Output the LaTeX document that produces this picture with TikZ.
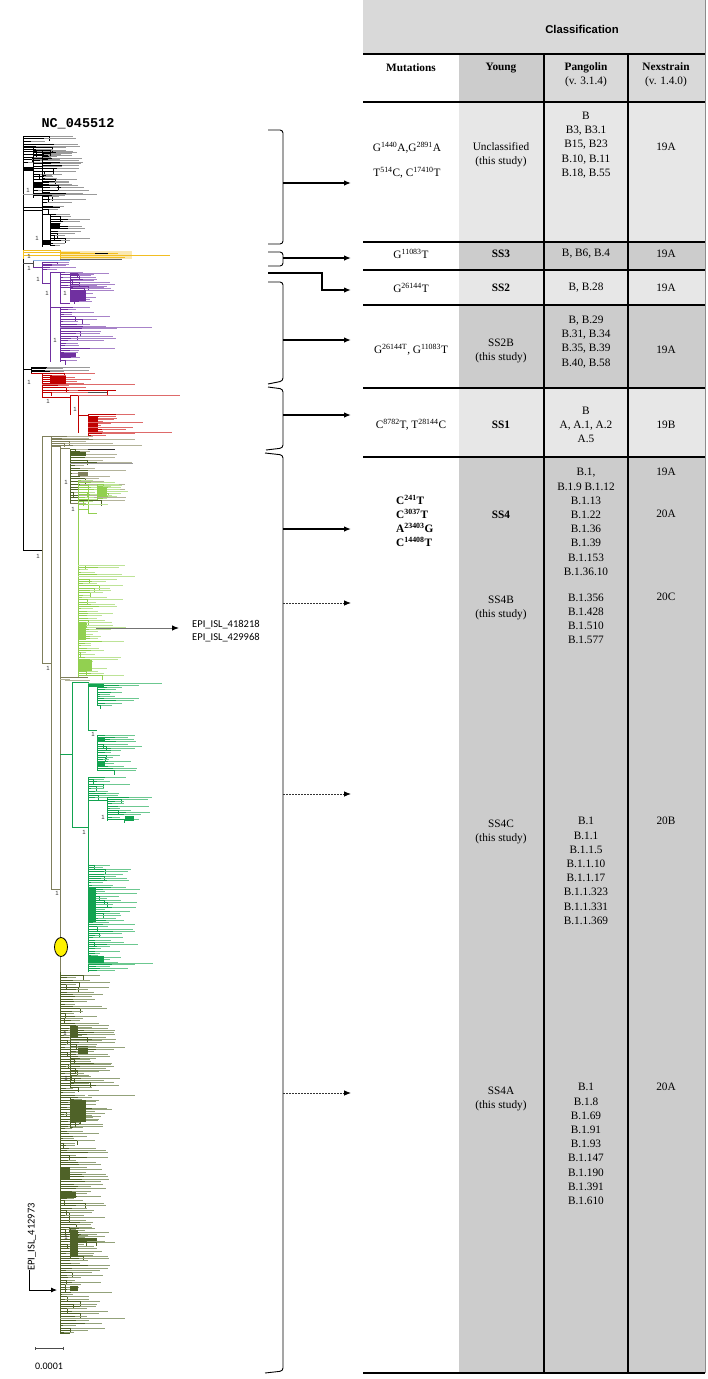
\documentclass[tikz,border=0pt]{standalone}
\usepackage{fontspec}
\setmainfont{Liberation Serif}
\setsansfont{Liberation Sans}
\setmonofont{Liberation Mono}
\newfontfamily\calib{Carlito}
\usetikzlibrary{arrows.meta,shapes.geometric}

\definecolor{band}{HTML}{D9D9D9}
\definecolor{lite}{HTML}{E7E7E7}
\definecolor{dark}{HTML}{CCCCCC}
\definecolor{tgray}{HTML}{9A9A9A}
\definecolor{tyellow}{HTML}{F2BE22}
\definecolor{tpurple}{HTML}{7030A0}
\definecolor{tlpurple}{HTML}{A883C9}
\definecolor{tred}{HTML}{C00000}
\definecolor{tlred}{HTML}{DE6A6A}
\definecolor{tolive}{HTML}{7F7F5C}
\definecolor{tlolive}{HTML}{B3B39A}
\definecolor{tlgreen}{HTML}{92D050}
\definecolor{tllgreen}{HTML}{BDE397}
\definecolor{tgreen}{HTML}{12A350}
\definecolor{tlgreentwo}{HTML}{6CC890}
\definecolor{tdolive}{HTML}{4F6228}
\definecolor{tldolive}{HTML}{93A27A}
\definecolor{tblue}{HTML}{8EB4E3}

% random leaves: #1 dark, #2 light, #3 x0, #4 y0, #5 y1, #6 dy, #7 min length, #8 extra length
\newcommand\leafs[8]{%
  \pgfmathsetmacro\nn{int((#5-#4)/#6)}%
  \foreach \i in {0,...,\nn}{%
    \pgfmathsetmacro\yy{#4+\i*#6}%
    \pgfmathsetmacro\ll{#7+rnd*#8}%
    \pgfmathsetmacro\dd{\ll*(0.15+0.45*rnd)}%
    \pgfmathsetmacro\xx{#3+\dd}%
    \pgfmathtruncatemacro\vv{rnd<0.3}%
    \draw[leaf,#2] (#3,\yy) -- ++(\ll,0);
    \draw[leaf,#1] (#3,\yy) -- ++(\dd,0);
    \ifnum\vv=1 \draw[leaf,#1] (\xx,\yy) -- ++(0,2*#6);\fi
  }%
  \draw[stem,#1] (#3,#4) -- (#3,#5);%
}

\begin{document}
\begin{tikzpicture}[x=1pt,y=-1pt,
  leaf/.style={line width=0.45pt},
  stem/.style={line width=0.6pt},
  rule/.style={line width=1.3pt,black},
  brk/.style={line width=0.9pt,rounded corners=3pt},
  arr/.style={line width=1.3pt,-{Latex[length=7pt,width=5.5pt]}},
  darr/.style={line width=0.8pt,dash pattern=on 2pt off 1pt,black!80,-{Latex[length=7pt,width=5.5pt,color=black]}},
  garr/.style={line width=1pt,black!55,-{Latex[length=7pt,width=5.5pt,color=black]}},
  karr/.style={line width=0.8pt,black,-{Latex[length=6pt,width=5pt]}},
  lbl/.style={font=\sffamily\fontsize{6}{6}\selectfont,text=black!80,inner sep=0pt},
  tx/.style={font=\fontsize{11.3}{14.2}\selectfont,align=center,inner sep=0pt},
  txb/.style={font=\bfseries\fontsize{11.3}{14.2}\selectfont,align=center,inner sep=0pt},
  epi/.style={font=\calib\fontsize{10.5}{13}\selectfont,inner sep=0pt}
]
\useasboundingbox (0,0) rectangle (708,1379);
\fill[white] (0,0) rectangle (708,1379);

% ================= TABLE =================
\fill[band] (363,0) rectangle (705,54);
\fill[dark] (459,54) rectangle (544,102);
\fill[band] (544,54) rectangle (705,102);
\fill[lite] (459,102) rectangle (705,242);
\fill[dark] (459,242) rectangle (705,270);
\fill[lite] (459,270) rectangle (705,305);
\fill[dark] (459,305) rectangle (705,388);
\fill[lite] (459,388) rectangle (705,457);
\fill[dark] (459,457) rectangle (705,1373);
\foreach \yv in {54,102,242,270,305,388,457,1373} \draw[rule] (363,\yv) -- (705,\yv);
\draw[rule] (544,54) -- (544,1373);
\draw[rule] (628,54) -- (628,1373);
\draw[black!45,line width=0.6pt] (705,0) -- (705,1373);

\node[font=\sffamily\bfseries\fontsize{11.3}{13}\selectfont,inner sep=0pt] (hdr) at (582,29) {Classification};
\node[txb] (hm) at (411,68) {Mutations};
\node[txb] (hy) at (501,68) {Young};
\node[tx] (hp) at (586,75) {\textbf{Pangolin}\\(v. 3.1.4)};
\node[tx] (hn) at (666,75) {\textbf{Nexstrain}\\(v. 1.4.0)};

\node[tx] (m1) at (407,160) {G\textsuperscript{1440}A,G\textsuperscript{2891}A\\[10.8pt]T\textsuperscript{514}C, C\textsuperscript{17410}T};
\node[tx] (y1) at (501,155) {Unclassified\\(this study)};
\node[tx] (p1) at (586,145) {B\\B3, B3.1\\B15, B23\\B.10, B.11\\B.18, B.55};
\node[tx] (n1) at (666,147) {19A};

\node[tx] (m2) at (411,254) {G\textsuperscript{11083}T};
\node[txb] (y2) at (501,254) {SS3};
\node[tx] (p2) at (586,254) {B, B6, B.4};
\node[tx] (n2) at (666,254) {19A};

\node[tx] (m3) at (411,288) {G\textsuperscript{26144}T};
\node[txb] (y3) at (501,288) {SS2};
\node[tx] (p3) at (586,288) {B, B.28};
\node[tx] (n3) at (666,288) {19A};

\node[tx] (m4) at (411,350) {G\textsuperscript{26144T}, G\textsuperscript{11083}T};
\node[tx] (y4) at (501,351) {SS2B\\(this study)};
\node[tx] (p4) at (586,342) {B, B.29\\B.31, B.34\\B.35, B.39\\B.40, B.58};
\node[tx] (n4) at (666,350) {19A};

\node[tx] (m5) at (411,425) {C\textsuperscript{8782}T, T\textsuperscript{28144}C};
\node[txb] (y5) at (501,425) {SS1};
\node[tx] (p5) at (586,425) {B\\A, A.1, A.2\\A.5};
\node[tx] (n5) at (666,425) {19B};

\node[txb,align=left,anchor=west] (m6) at (396,521) {C\textsuperscript{241}T\\C\textsuperscript{3037}T\\A\textsuperscript{23403}G\\C\textsuperscript{14408}T};
\node[txb] (y6) at (501,515) {SS4};
\node[tx] (p6) at (586,522) {B.1,\\B.1.9 B.1.12\\B.1.13\\B.1.22\\B.1.36\\B.1.39\\B.1.153\\B.1.36.10};
\node[tx] (n6a) at (666,472) {19A};
\node[tx] (n6b) at (666,514) {20A};

\node[tx] (y7) at (501,608) {SS4B\\(this study)};
\node[tx] (p7) at (586,619) {B.1.356\\B.1.428\\B.1.510\\B.1.577};
\node[tx] (n7) at (666,597) {20C};

\node[tx] (y8) at (501,832) {SS4C\\(this study)};
\node[tx] (p8) at (586,871) {B.1\\B.1.1\\B.1.1.5\\B.1.1.10\\B.1.1.17\\B.1.1.323\\B.1.1.331\\B.1.1.369};
\node[tx] (n8) at (666,821) {20B};

\node[tx] (y9) at (501,1099) {SS4A\\(this study)};
\node[tx] (p9) at (586,1144) {B.1\\B.1.8\\B.1.69\\B.1.91\\B.1.93\\B.1.147\\B.1.190\\B.1.391\\B.1.610};
\node[tx] (n9) at (666,1087) {20A};

% ================= BRACKETS & ARROWS =================
\draw[brk] (268,130) -- (283,130) -- (283,244) -- (268,244);
\draw[brk] (268,252) -- (283,252) -- (283,266) -- (268,266);
\draw[brk] (268,282) -- (283,282) -- (283,381) -- (268,384);
\draw[brk] (268,387) -- (283,389) -- (283,448) -- (266,450);
\draw[brk] (265,453) -- (283,455) -- (283,1371) -- (265,1373);

\coordinate (b1) at (283,183);  \coordinate (t1) at (351,183);
\coordinate (b2) at (283,258);  \coordinate (t2) at (351,258);
\coordinate (s2a) at (268,273); \coordinate (s2b) at (322,273); \coordinate (t3) at (351,290);
\coordinate (b4) at (283,340);  \coordinate (t4) at (351,340);
\coordinate (b5) at (283,415);  \coordinate (t5) at (351,415);
\coordinate (b6) at (283,529);  \coordinate (t6) at (351,529);
\coordinate (b7) at (283,603);  \coordinate (t7) at (351,603);
\coordinate (b8) at (283,794);  \coordinate (t8) at (351,794);
\coordinate (b9) at (283,1093); \coordinate (t9) at (351,1093);

\draw[arr] (b1) -- (t1);
\draw[arr] (b2) -- (t2);
\draw[arr,line width=1.5pt] (s2a) -- (s2b) |- (t3);
\draw[arr] (b4) -- (t4);
\draw[arr] (b5) -- (t5);
\draw[arr] (b6) -- (t6);
\draw[darr] (b7) -- (t7);
\draw[darr] (b8) -- (t8);
\draw[darr] (b9) -- (t9);

% ================= TREE =================
\pgfmathsetseed{4}
\node[font=\ttfamily\bfseries\fontsize{13.5}{14}\selectfont,inner sep=0pt] (nc) at (78,124) {NC\_045512};

% root
\draw[stem,black] (23,136) -- (23,550);
\draw[stem,black] (23,550) -- (42,550);
% black clade
\leafs{black}{tgray}{23}{136}{162}{2.6}{15}{45}
\draw[stem,black] (23,147) -- (33,147);
\leafs{black}{tgray}{33}{147}{198}{2.7}{12}{40}
\draw[stem,black] (33,150) -- (42,150);
\leafs{black}{tgray}{42}{150}{212}{3.1}{10}{40}
\fill[black] (23,167) rectangle (33,171);
\fill[black] (33,183) rectangle (42,188);
\fill[black] (42,192) rectangle (50,196);
\draw[leaf,tgray] (23,194) -- (97,194);
\draw[leaf,black] (23,207) -- (60,207);
\draw[leaf,black] (23,210) -- (42,210);
\draw[stem,black] (42,210) -- (42,247);
\draw[stem,black] (42,214) -- (50,214);
\leafs{black}{tgray}{50}{214}{246}{2.4}{10}{35}
\fill[black] (42,240) rectangle (50,245);
\fill[black] (50,223) rectangle (60,228);

% yellow clade
\fill[tyellow!35] (60,251) rectangle (132,258.5);
\draw[leaf,tyellow] (23,250.5) -- (60,250.5);
\draw[leaf,tyellow] (23,252.5) -- (80,252.5);
\draw[line width=0.9pt,tyellow] (23,255) -- (170,255);
\draw[leaf,tyellow] (60,257.5) -- (125,257.5);
\draw[leaf,tyellow] (60,253.5) -- (118,253.5);
\draw[stem,tyellow] (23,250) -- (23,259);
\draw[leaf,tyellow] (60,250) -- (60,259);
\draw[leaf,black!60] (60,259.5) -- (122,259.5);
\draw[leaf,black] (95,253) -- (108,253);

% purple clade
\draw[stem,black!70] (23,263) -- (33,263);
\draw[stem,black!70] (33,260) -- (33,268);
\draw[leaf,tblue] (33,260.5) -- (70,260.5);
\draw[stem,tpurple] (33,267) -- (42,267);
\leafs{tpurple}{tlpurple}{42}{262}{270}{1.8}{12}{25}
\draw[stem,tpurple] (42,262) -- (42,283);
\draw[stem,tpurple] (42,283) -- (50,283);
\draw[stem,tpurple] (50,272) -- (50,362);
\draw[stem,tpurple] (50,272) -- (60,272);
\leafs{tpurple}{tlpurple}{60}{272}{288}{2.6}{15}{35}
\draw[stem,tpurple] (60,272) -- (60,303);
\draw[stem,tpurple] (60,303) -- (70,303);
\leafs{tpurple}{tlpurple}{70}{273}{302}{2.2}{10}{35}
\fill[tpurple] (70,290) rectangle (86,301);
\draw[stem,tpurple] (50,307) -- (60,307);
\leafs{tpurple}{tlpurple}{60}{307}{362}{2.4}{12}{45}
\draw[leaf,tlpurple] (60,327) -- (152,327);
\fill[tpurple] (60,353) rectangle (76,357);

% red clade
\draw[stem,black] (23,369) -- (31,369);
\draw[stem,black] (31,367) -- (31,374);
\leafs{black}{tgray}{31}{367}{373}{1.5}{30}{30}
\draw[stem,tred] (31,373) -- (42,373);
\leafs{tred}{tlred}{42}{373}{392}{2.1}{15}{40}
\draw[stem,tred] (42,373) -- (42,397);
\fill[tred] (50,376) rectangle (66,385);
\draw[leaf,tlred] (42,384) -- (135,384);
\draw[stem,tred] (42,397) -- (70,397);
\draw[stem,tred] (70,395) -- (70,415);
\draw[stem,tred] (70,395) -- (78,395);
\draw[stem,tred] (78,395) -- (78,433);
\draw[leaf,tlred] (78,395.5) -- (180,395.5);
\draw[leaf,tred] (78,390) -- (116,390);
\draw[leaf,black!70] (88,392.5) -- (107,392.5);
\draw[leaf,tred] (107,390) -- (107,395);
\draw[stem,tred] (78,415) -- (88,415);
\leafs{tred}{tlred}{88}{414}{436}{1.9}{12}{40}
\fill[tred] (88,417) rectangle (98,433);
\draw[leaf,tlred] (88,432) -- (172,432);
\draw[leaf,tlred] (88,422) -- (143,422);
\draw[leaf,tlred] (88,427) -- (133,427);

% SS4 backbone (olive)
\draw[stem,tolive] (42,436) -- (42,663);
\draw[stem,tolive] (42,663) -- (51,663);
\draw[stem,tolive] (51,436) -- (51,889);
\draw[stem,tolive] (51,889) -- (60,889);
\draw[stem,tolive] (60,446) -- (60,972);
\draw[stem,tolive] (42,436) -- (51,436);
\leafs{tolive}{tlolive}{51}{436}{445}{1.8}{25}{75}
\draw[stem,tolive] (51,446) -- (60,446);
\draw[stem,tolive] (60,448) -- (70,448);
\leafs{tdolive}{tlolive}{70}{449}{503}{2.7}{12}{50}
\fill[tdolive] (70,452) rectangle (86,456);
\fill[tolive] (78,472) rectangle (88,476);
\draw[leaf,black!80] (88,449) -- (115,449);
\draw[leaf,tgray] (70,463) -- (133,463);
\draw[stem,tolive] (70,503) -- (78,503);

% light green clade
\draw[stem,tlgreen] (78,480) -- (78,677);
\leafs{tlgreen}{tllgreen}{78}{480}{506}{2.4}{10}{35}
\draw[stem,tlgreen] (88,484) -- (88,500);
\leafs{tlgreen}{tllgreen}{97}{484}{500}{1.8}{10}{22}
\fill[tlgreen] (97,487) rectangle (107,496);
\draw[leaf,tlgreen] (78,509) -- (88,509);
\draw[leaf,tlgreen] (88,505) -- (88,513);
\draw[leaf,tlgreen] (88,513) -- (97,513);
\leafs{tlgreen}{tllgreen}{78}{565}{677}{2.3}{8}{40}
\fill[tlgreen] (78,622) rectangle (86,640);
\fill[tlgreen] (78,660) rectangle (92,671);
\draw[leaf,tllgreen] (78,565) -- (125,565);
\draw[leaf,tllgreen] (78,576) -- (135,576);
\draw[leaf,tolive] (60,677) -- (88,677);
\draw[leaf,tlolive] (60,679) -- (70,679);
\draw[leaf,tlolive] (65,680.5) -- (90,680.5);

% EPI_ISL_418218 / 429968
\node[epi,anchor=west] (epia) at (192,625) {EPI\_ISL\_418218};
\node[epi,anchor=west] (epib) at (192,638) {EPI\_ISL\_429968};
\coordinate (ea) at (96,628); \coordinate (eb) at (179,628);
\draw[garr] (ea) -- (eb);

% medium green clade
\draw[stem,tgreen] (60,754) -- (72,754);
\draw[stem,tgreen] (72,682) -- (72,827);
\draw[stem,tgreen] (72,682) -- (88,682);
\draw[stem,tgreen] (72,827) -- (88,827);
\draw[stem,tgreen] (88,682) -- (88,730);
\draw[stem,tgreen] (88,730) -- (97,730);
\leafs{tgreen}{tlgreentwo}{97}{683}{706}{2.2}{10}{35}
\fill[tgreen] (88,683) rectangle (104,687);
\draw[leaf,tlgreentwo] (88,683.5) -- (162,683.5);
\leafs{tgreen}{tlgreentwo}{97}{735}{771}{2.2}{10}{38}
\fill[tgreen] (97,738) rectangle (105,742);
\fill[tgreen] (97,761) rectangle (105,767);
\draw[stem,tgreen] (88,777) -- (88,972);
\leafs{tgreen}{tlgreentwo}{88}{777}{800}{2.3}{12}{35}
\draw[stem,tgreen] (88,800) -- (107,800);
\leafs{tgreen}{tlgreentwo}{107}{797}{821}{2.2}{10}{38}
\fill[tgreen] (125,816) rectangle (134,821);
\leafs{tgreen}{tlgreentwo}{88}{865}{972}{2.2}{10}{42}
\fill[tgreen] (88,887) rectangle (96,922);
\fill[tgreen] (88,956) rectangle (104,964);
\draw[leaf,tlgreentwo] (88,963) -- (153,963);

% dark olive clade
\draw[stem,tdolive] (60,972) -- (60,1333);
\draw[stem,tdolive] (60,1333) -- (70,1333);
\leafs{tdolive}{tldolive}{60}{975}{1333}{2.4}{12}{40}
\leafs{tdolive}{tldolive}{70}{1025}{1088}{2.4}{10}{40}
\leafs{tdolive}{tldolive}{70}{1097}{1128}{2.3}{10}{35}
\leafs{tdolive}{tldolive}{70}{1228}{1258}{2.3}{10}{35}
\fill[tdolive] (70,1026) rectangle (78,1038);
\fill[tdolive] (78,1046) rectangle (88,1054);
\fill[tdolive] (70,1100) rectangle (86,1122);
\fill[tdolive] (60,1167) rectangle (70,1180);
\fill[tdolive] (60,1192) rectangle (76,1198);
\fill[tdolive] (70,1230) rectangle (78,1256);
\fill[tdolive] (78,1238) rectangle (97,1241);
\fill[tdolive] (70,1286) rectangle (78,1291);
\draw[leaf,tldolive] (78,1047) -- (125,1047);
\draw[leaf,tldolive] (88,1095) -- (135,1095);
\draw[leaf,tldolive] (60,1318) -- (125,1318);

% yellow ellipse
\node[ellipse,draw=black,fill=yellow,line width=0.8pt,minimum width=13pt,minimum height=19pt,inner sep=0pt] (root4) at (61,947) {};

% bootstrap labels
\node[lbl] (l1) at (28,190) {1};
\node[lbl] (l2) at (37,238) {1};
\node[lbl] (l3) at (29,256) {1};
\node[lbl] (l4) at (29,268) {1};
\node[lbl] (l5) at (38,279) {1};
\node[lbl] (l6) at (47,293) {1};
\node[lbl] (l7) at (65,293) {1};
\node[lbl] (l8) at (55,340) {1};
\node[lbl] (l9) at (29,382) {1};
\node[lbl] (l10) at (48,401) {1};
\node[lbl] (l11) at (75,409) {1};
\node[lbl] (l12) at (66,482) {1};
\node[lbl] (l13) at (73,509) {1};
\node[lbl] (l14) at (38,556) {1};
\node[lbl] (l15) at (48,668) {1};
\node[lbl] (l16) at (93,734) {1};
\node[lbl] (l17) at (103,817) {1};
\node[lbl] (l18) at (84,832) {1};
\node[lbl] (l19) at (57,893) {1};
\node[lbl] (l20) at (65,1033) {1};
\node[lbl] (l21) at (66,1078) {1};
\node[lbl] (l22) at (66,1237) {1};

% EPI_ISL_412973
\node[epi,rotate=90] (epic) at (32,1237) {EPI\_ISL\_412973};
\coordinate (ec) at (29.5,1270); \coordinate (ed) at (57,1290);
\draw[karr] (ec) |- (ed);

% scale bar
\coordinate (sba) at (35,1348); \coordinate (sbb) at (63,1348);
\draw[line width=0.5pt,black!70,{Bar[width=3pt]}-{Bar[width=3pt]}] (sba) -- (sbb);
\node[epi,font=\calib\fontsize{10}{12}\selectfont] (sbl) at (49,1366) {0.0001};
\end{tikzpicture}
\end{document}
